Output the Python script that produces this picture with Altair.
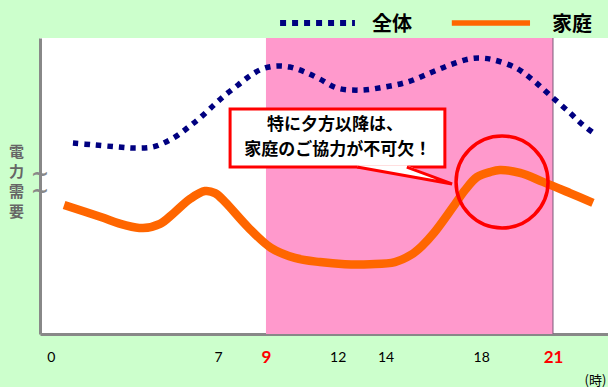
import altair as alt
import pandas as pd

# ---- data (hour of day, relative demand 0-100) ----
hours_all = [0.93, 1.77, 2.77, 3.52, 4.28, 4.82, 5.32, 5.82, 6.24, 6.83, 7.29, 7.83,
             8.33, 8.83, 9.38, 10.0, 10.63, 11.26, 11.97, 12.93, 13.93, 14.9, 15.86,
             16.69, 17.49, 17.99, 18.53, 19.45, 20.16, 20.87, 21.71, 22.25, 22.75]
demand_all = [64.5, 63.9, 63.2, 62.8, 63.2, 64.9, 67.2, 70.3, 73.0, 77.4, 80.7, 84.1,
              87.2, 89.5, 90.5, 90.2, 88.5, 86.1, 83.1, 82.4, 83.4, 85.1, 88.2,
              90.9, 92.9, 93.2, 92.6, 89.9, 85.8, 80.7, 74.7, 70.6, 67.6]

hours_home = [0.56, 2.10, 3.11, 3.86, 4.57, 5.15, 5.82, 6.45, 6.87, 7.29, 8.25, 9.21,
              10.21, 11.26, 12.30, 13.35, 14.39, 15.06, 15.52, 16.02, 16.82, 17.32,
              17.82, 18.36, 18.78, 19.62, 20.58, 21.71, 22.67]
demand_home = [43.6, 39.5, 36.8, 35.8, 37.2, 40.9, 45.6, 48.3, 47.6, 44.6, 36.1, 29.1,
               25.7, 24.3, 23.6, 23.6, 24.3, 26.7, 29.7, 34.1, 42.9, 48.6,
               53.0, 54.7, 55.4, 54.4, 51.4, 47.6, 44.3]

tick_hours = [0, 7, 9, 12, 14, 18, 21]
peak_hours = [9, 21]
series_names = ["全体", "家庭"]
callout_lines = ["特に夕方以降は、", "家庭のご協力が不可欠！"]
y_title = ["電", "力", "需", "要"]
x_title = "(時)"
break_marks = ["~", "~"]

# ---- scales / axes ----
xs = alt.Scale(domain=[-0.447, 23.3], nice=False, zero=False)
ys = alt.Scale(domain=[0, 100], nice=False, zero=False)

red_test = "datum.value == 9 || datum.value == 21"
xaxis = alt.Axis(
    values=tick_hours, title=x_title, grid=False, ticks=False, tickSize=0,
    domainColor="#888888", domainWidth=3,
    labelFont="Lato", labelBaseline="middle", labelPadding=23,
    labelFlush=False, labelOverlap=False, labelBound=False,
    labelColor={"condition": {"test": red_test, "value": "#FF0000"}, "value": "#000000"},
    labelFontWeight={"condition": {"test": red_test, "value": "bold"}, "value": "normal"},
    labelFontSize={"condition": {"test": red_test, "value": 17}, "value": 14},
    titleX=555, titleY=46, titleAlign="center", titleBaseline="middle",
    titleFont="Noto Sans CJK JP", titleFontSize=13, titleFontWeight="normal",
    titleColor="#000000",
)
yaxis = alt.Axis(
    title=y_title, labels=False, ticks=False, tickSize=0, grid=False,
    domainColor="#888888", domainWidth=3,
    titleAngle=0, titleX=-24, titleY=106, titleBaseline="top", titleAlign="center",
    titleFont="Noto Sans CJK JP", titleFontSize=15, titleFontWeight="bold",
    titleColor="#666666", titleLineHeight=20,
)


def X(f, **kw):
    return alt.X(f, type="quantitative", scale=xs, axis=xaxis, **kw)


def Y(f, **kw):
    return alt.Y(f, type="quantitative", scale=ys, axis=yaxis, **kw)


# ---- frames ----
df_all = pd.DataFrame({"h": hours_all, "v": demand_all})
df_home = pd.DataFrame({"h": hours_home, "v": demand_home})
df_band = pd.DataFrame({"h": [peak_hours[0]], "h2": [peak_hours[1]], "v": [0], "v2": [100]})
df_edge = pd.DataFrame({"h": [peak_hours[1]], "v": [0], "v2": [100]})
df_box = pd.DataFrame({"h": [7.50], "h2": [16.48], "v": [56.4], "v2": [76.0]})
df_tail_fill = pd.DataFrame({"h": [12.81, 14.89, 16.78], "v": [57.0, 57.0, 50.7],
                             "v2": [56.4, 53.41, 50.7]})
df_tail_line = pd.DataFrame({"h": [12.81, 16.78, 14.89], "v": [56.4, 50.7, 56.4],
                             "o": [0, 1, 2]})
df_callout = pd.DataFrame({"h": [11.89, 12.0], "v": [70.6, 62.2], "t": callout_lines})
df_circle = pd.DataFrame({"h": [18.87], "v": [51.35]})
df_leg_all = pd.DataFrame({"h": [9.59, 12.72], "v": [105.07, 105.07]})
df_leg_home = pd.DataFrame({"h": [16.77, 20.04], "v": [105.07, 105.07]})
df_leg_text = pd.DataFrame({"h": [14.27, 21.79], "v": [104.4, 104.4], "t": series_names})
df_break = pd.DataFrame({"h": [-0.45], "v": [54.2], "t": [break_marks]})

# ---- layers ----
band = alt.Chart(df_band).mark_rect(color="#FF99CC").encode(
    x=X("h"), x2="h2", y=Y("v"), y2="v2")
edge = alt.Chart(df_edge).mark_rule(color="#7A5A7A", strokeWidth=1).encode(
    x=X("h"), y=Y("v"), y2="v2")
line_all = alt.Chart(df_all).mark_line(
    color="#000080", strokeWidth=5.5, strokeDash=[5.5, 6], strokeCap="butt",
    interpolate="catmull-rom").encode(x=X("h"), y=Y("v"))
line_home = alt.Chart(df_home).mark_line(
    color="#FF6600", strokeWidth=8.5, strokeCap="butt",
    interpolate="catmull-rom").encode(x=X("h"), y=Y("v"))
box = alt.Chart(df_box).mark_rect(fill="#FFFFFF", stroke="#FF0000", strokeWidth=3).encode(
    x=X("h"), x2="h2", y=Y("v"), y2="v2")
tail_fill = alt.Chart(df_tail_fill).mark_area(color="#FFFFFF").encode(
    x=X("h"), y=Y("v"), y2="v2")
tail_line = alt.Chart(df_tail_line).mark_line(
    color="#FF0000", strokeWidth=3, strokeJoin="miter").encode(
    x=X("h"), y=Y("v"), order="o:Q")
callout = alt.Chart(df_callout).mark_text(
    font="Noto Sans CJK JP", fontSize=17, fontWeight="bold", color="#000000",
    align="center", baseline="middle").encode(x=X("h"), y=Y("v"), text="t:N")
circle = alt.Chart(df_circle).mark_point(
    shape="circle", filled=False, size=8464, stroke="#FF0000", strokeWidth=3.5,
    opacity=1).encode(x=X("h"), y=Y("v"))
leg_all = alt.Chart(df_leg_all).mark_line(
    color="#000080", strokeWidth=6, strokeDash=[6, 6], strokeCap="butt").encode(
    x=X("h"), y=Y("v"))
leg_home = alt.Chart(df_leg_home).mark_line(
    color="#FF6600", strokeWidth=5.5, strokeCap="butt").encode(x=X("h"), y=Y("v"))
leg_text = alt.Chart(df_leg_text).mark_text(
    font="Noto Sans CJK JP", fontSize=20, fontWeight="bold", color="#000000",
    align="center", baseline="middle").encode(x=X("h"), y=Y("v"), text="t:N")
brk = alt.Chart(df_break).mark_text(
    font="DejaVu Sans", fontSize=22, fontWeight="bold", color="#888888",
    align="center", baseline="middle", lineHeight=17).encode(
    x=X("h"), y=Y("v"), text="t")

chart = alt.layer(
    band, edge, line_all, line_home, box, tail_fill, tail_line, callout, circle,
    leg_all, leg_home, leg_text, brk
).properties(
    width=568, height=296,
    padding={"left": 40, "top": 38, "right": 0, "bottom": 53},
    autosize=alt.AutoSizeParams(type="none"),
    background="#CCFFCC",
).configure_view(fill="#FFFFFF", stroke=None)

chart.save("out.html", embed_options={"renderer": "svg", "actions": False})
